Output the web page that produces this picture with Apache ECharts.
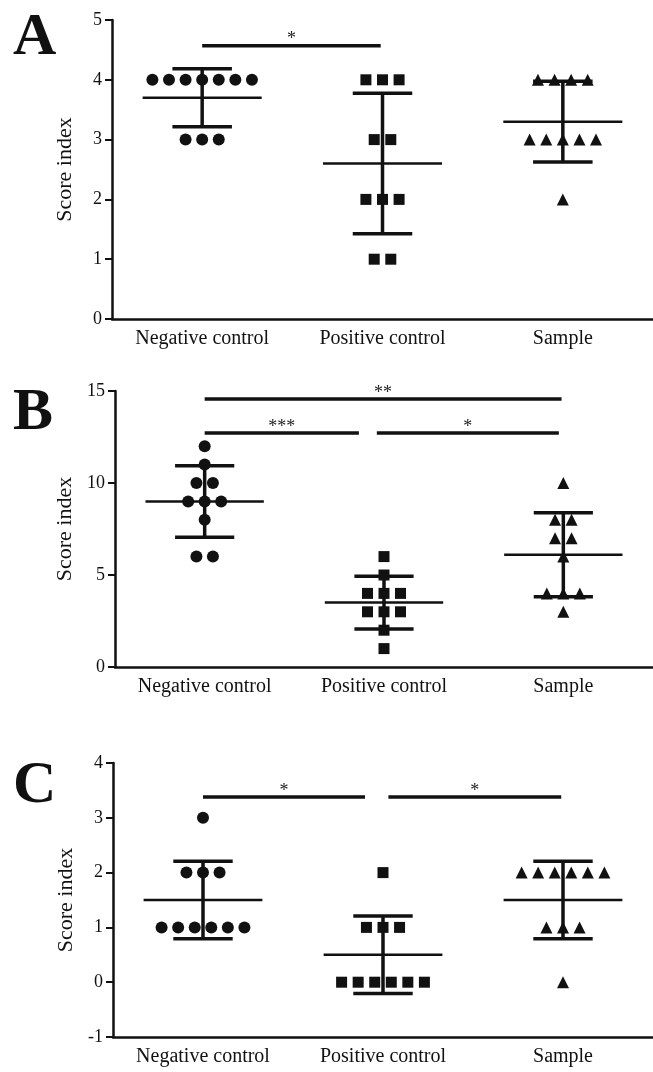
<!DOCTYPE html>
<html>
<head>
<meta charset="utf-8">
<script src="https://cdn.jsdelivr.net/npm/echarts@6/dist/echarts.min.js"></script>
<style>
  html, body { margin: 0; background: #fff; }
  #chart { width: 653px; height: 1072px; }
</style>
</head>
<body>
<div id="chart"></div>
<script>
const categories = ['Negative control', 'Positive control', 'Sample']

// panel A scores
const aNegative = [4, 4, 4, 4, 4, 4, 4, 3, 3, 3]
const aPositive = [4, 4, 4, 3, 3, 2, 2, 2, 1, 1]
const aSample = [4, 4, 4, 4, 3, 3, 3, 3, 3, 2]
// panel B scores
const bNegative = [12, 11, 10, 10, 9, 9, 9, 8, 6, 6]
const bPositive = [6, 5, 4, 4, 4, 3, 3, 3, 2, 1]
const bSample = [10, 8, 8, 7, 7, 6, 4, 4, 4, 3]
// panel C scores
const cNegative = [3, 2, 2, 2, 1, 1, 1, 1, 1, 1]
const cPositive = [2, 1, 1, 1, 0, 0, 0, 0, 0, 0]
const cSample = [2, 2, 2, 2, 2, 2, 1, 1, 1, 0]

// y axis [min, max, interval]
const rangeA = [0, 5, 1]
const rangeB = [0, 15, 5]
const rangeC = [-1, 4, 1]

// significance bars [from group, to group, height, stars]
const sigA = [[0, 0.99, 4.57, '*']]
const sigB = [[0, 1.99, 14.57, '**'], [0, 0.86, 12.72, '***'], [0.96, 1.975, 12.72, '*']]
const sigC = [[0, 0.9, 3.38, '*'], [1.03, 1.99, 3.38, '*']]

const serif = "'Liberation Serif', 'Times New Roman', serif"
const ink = '#111'
const symbols = ['circle', 'rect', 'triangle']
const symbolSizes = [12, 11, 12]
const step = 0.092
const meanHalf = 0.33
const capHalf = 0.165

const panels = [
  { letter: 'A', letterY: 38, groups: [aNegative, aPositive, aSample], range: rangeA, sig: sigA,
    grid: { left: 112, top: 20, width: 546, height: 299 } },
  { letter: 'B', letterY: 413, groups: [bNegative, bPositive, bSample], range: rangeB, sig: sigB,
    grid: { left: 115, top: 391, width: 543, height: 276 } },
  { letter: 'C', letterY: 786, groups: [cNegative, cPositive, cSample], range: rangeC, sig: sigC,
    grid: { left: 113, top: 763, width: 545, height: 274 } }
]

// points with the same score sit side by side around the group centre
const spread = (values, cat) => {
  const counts = {}
  const seen = {}
  values.forEach(v => { counts[v] = (counts[v] || 0) + 1 })
  return values.map(v => {
    seen[v] = seen[v] === undefined ? 0 : seen[v] + 1
    return [cat + (seen[v] - (counts[v] - 1) / 2) * step, v]
  })
}

const stats = (values) => {
  const n = values.length
  const mean = values.reduce((s, v) => s + v, 0) / n
  const sd = Math.sqrt(values.reduce((s, v) => s + (v - mean) ** 2, 0) / (n - 1))
  return [mean, sd]
}

const line = (a, b, w) => ({
  type: 'line',
  shape: { x1: a[0], y1: a[1], x2: b[0], y2: b[1] },
  style: { stroke: ink, lineWidth: w }
})

const grid = []
const xAxis = []
const yAxis = []
const series = []
const graphic = []

panels.forEach((p, k) => {
  grid.push(p.grid)
  xAxis.push({
    type: 'category',
    gridIndex: k,
    data: categories,
    boundaryGap: true,
    axisLine: { onZero: false, lineStyle: { color: ink, width: 2.5 } },
    axisTick: { alignWithLabel: true, length: 6, lineStyle: { color: ink, width: 2 } },
    axisLabel: { color: ink, fontFamily: serif, fontSize: 20, margin: 10 },
    splitLine: { show: false }
  })
  xAxis.push({ type: 'value', gridIndex: k, min: -0.5, max: 2.5, show: false })
  yAxis.push({
    type: 'value',
    gridIndex: k,
    min: p.range[0],
    max: p.range[1],
    interval: p.range[2],
    name: 'Score index',
    nameLocation: 'middle',
    nameGap: 36,
    nameTextStyle: { color: ink, fontFamily: serif, fontSize: 22 },
    axisLine: { show: true, onZero: false, lineStyle: { color: ink, width: 2.5 } },
    axisTick: { show: true, length: 7, lineStyle: { color: ink, width: 2 } },
    axisLabel: { color: ink, fontFamily: serif, fontSize: 18, margin: 10 },
    splitLine: { show: false }
  })

  p.groups.forEach((g, j) => {
    series.push({
      type: 'scatter',
      xAxisIndex: 2 * k + 1,
      yAxisIndex: k,
      symbol: symbols[j],
      symbolSize: symbolSizes[j],
      itemStyle: { color: ink, opacity: 1 },
      silent: true,
      data: spread(g, j)
    })
  })

  // mean line with SD whiskers
  series.push({
    type: 'custom',
    xAxisIndex: 2 * k + 1,
    yAxisIndex: k,
    silent: true,
    data: p.groups.map((g, j) => [j].concat(stats(g))),
    encode: { x: 0, y: 1 },
    renderItem: (params, api) => {
      const x = api.value(0)
      const m = api.value(1)
      const s = api.value(2)
      return {
        type: 'group',
        children: [
          line(api.coord([x - meanHalf, m]), api.coord([x + meanHalf, m]), 2.5),
          line(api.coord([x, m + s]), api.coord([x, m - s]), 3.5),
          line(api.coord([x - capHalf, m + s]), api.coord([x + capHalf, m + s]), 3.5),
          line(api.coord([x - capHalf, m - s]), api.coord([x + capHalf, m - s]), 3.5)
        ]
      }
    }
  })

  // significance brackets
  series.push({
    type: 'custom',
    xAxisIndex: 2 * k + 1,
    yAxisIndex: k,
    silent: true,
    clip: false,
    data: p.sig.map(d => [d[0], d[1], d[2]]),
    encode: { x: [0, 1], y: 2 },
    renderItem: (params, api) => {
      const d = p.sig[params.dataIndex]
      const a = api.coord([d[0], d[2]])
      const b = api.coord([d[1], d[2]])
      return {
        type: 'group',
        children: [
          line(a, b, 3.5),
          {
            type: 'text',
            x: (a[0] + b[0]) / 2,
            y: a[1] - 6,
            style: { text: d[3], fill: '#222', fontFamily: serif, fontSize: 18, align: 'center', verticalAlign: 'middle' }
          }
        ]
      }
    }
  })

  graphic.push({
    type: 'text',
    x: 13,
    y: p.letterY,
    style: { text: p.letter, fill: ink, fontFamily: serif, fontSize: 60, fontWeight: 'bold', verticalAlign: 'middle' }
  })
})

const chart = echarts.init(document.getElementById('chart'))
chart.setOption({
  backgroundColor: '#fff',
  animation: false,
  grid,
  xAxis,
  yAxis,
  series,
  graphic
})
</script>
</body>
</html>
